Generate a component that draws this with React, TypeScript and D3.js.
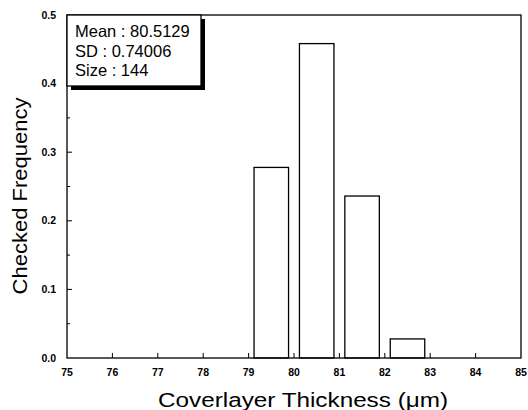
import React from "react";
import * as d3 from "d3";

const binCenters = [79.5, 80.5, 81.5, 82.5];
const frequencies = [0.2778, 0.4583, 0.2361, 0.0278];
const xTicks = [75, 76, 77, 78, 79, 80, 81, 82, 83, 84, 85];
const yTicks = [0.0, 0.1, 0.2, 0.3, 0.4, 0.5];
const yMinorTicks = [0.05, 0.15, 0.25, 0.35, 0.45];
const statsLines = ["Mean : 80.5129", "SD : 0.74006", "Size : 144"];
const barWidthUnits = 0.76;

export default function App() {
  const W = 528, H = 410;
  const left = 67, right = 521, top = 15, bottom = 358;
  const x = d3.scaleLinear().domain([75, 85]).range([left, right]);
  const y = d3.scaleLinear().domain([0, 0.5]).range([bottom, top]);
  const font = "Arial, 'Liberation Sans', Helvetica, sans-serif";
  return (
    <svg width={W} height={H} style={{ position: "absolute", left: 0, top: 0, background: "#fff" }}>
      <rect x={0} y={0} width={W} height={H} fill="#fff" />
      {binCenters.map((c, i) => (
        <rect
          key={i}
          x={x(c - barWidthUnits / 2)}
          y={y(frequencies[i])}
          width={x(c + barWidthUnits / 2) - x(c - barWidthUnits / 2)}
          height={y(0) - y(frequencies[i])}
          fill="#fff"
          stroke="#000"
          strokeWidth={1.3}
        />
      ))}
      <rect x={left} y={top} width={right - left} height={bottom - top} fill="none" stroke="#000" strokeWidth={1.3} />
      {xTicks.map((t) => (
        <g key={t}>
          {t !== 75 && t !== 85 && (
            <line x1={x(t)} x2={x(t)} y1={bottom} y2={bottom - 5} stroke="#000" strokeWidth={1} />
          )}
          <text x={x(t)} y={bottom + 18} textAnchor="middle" fontFamily={font} fontWeight="bold" fontSize={10.5}>
            {t}
          </text>
        </g>
      ))}
      {yTicks.map((t) => (
        <g key={t}>
          {t !== 0 && t !== 0.5 && (
            <line x1={left} x2={left + 5} y1={y(t)} y2={y(t)} stroke="#000" strokeWidth={1} />
          )}
          <text x={left - 11} y={y(t) + 3.5} textAnchor="end" fontFamily={font} fontWeight="bold" fontSize={10.5}>
            {t.toFixed(1)}
          </text>
        </g>
      ))}
      {yMinorTicks.map((t) => (
        <line key={t} x1={left} x2={left + 3} y1={y(t)} y2={y(t)} stroke="#000" strokeWidth={1} />
      ))}
      <rect x={left + 4} y={top + 4} width={134} height={71} fill="#000" />
      <rect x={left} y={top} width={134} height={71} fill="#fff" stroke="#000" strokeWidth={1.3} />
      {statsLines.map((s, i) => (
        <text key={i} x={left + 8} y={top + 22 + i * 19.5} fontFamily={font} fontSize={16.5}>
          {s}
        </text>
      ))}
      <text
        x={303}
        y={407}
        textAnchor="middle"
        fontFamily={font}
        fontSize={20}
        textLength={290}
        lengthAdjust="spacingAndGlyphs"
      >
        Coverlayer Thickness (μm)
      </text>
      <text
        transform={`translate(27, 196) rotate(-90)`}
        textAnchor="middle"
        fontFamily={font}
        fontSize={20}
        textLength={197}
        lengthAdjust="spacingAndGlyphs"
      >
        Checked Frequency
      </text>
    </svg>
  );
}
